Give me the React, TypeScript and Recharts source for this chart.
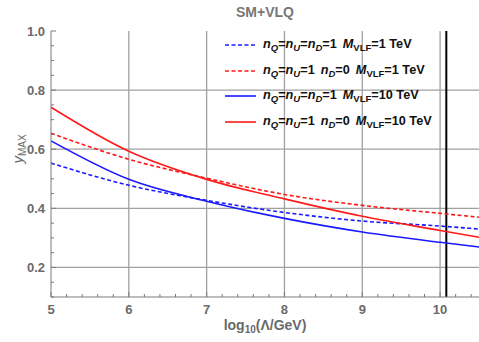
import React from "react";
import { LineChart, Line, XAxis, YAxis, ReferenceLine, Legend } from "recharts";

// log10(Lambda/GeV) sample points
const xs = [5, 6, 7, 8, 9, 10, 10.5];

// y_MAX
const blueDash = [0.553, 0.478, 0.427, 0.386, 0.357, 0.34, 0.33]; // nQ=nU=nD=1, 1 TeV
const redDash = [0.654, 0.566, 0.502, 0.447, 0.41, 0.383, 0.37]; // nQ=nU=1 nD=0, 1 TeV
const blueSolid = [0.628, 0.498, 0.424, 0.366, 0.32, 0.285, 0.269]; // nQ=nU=nD=1, 10 TeV
const redSolid = [0.742, 0.593, 0.498, 0.432, 0.373, 0.325, 0.302]; // nQ=nU=1 nD=0, 10 TeV

const majorX = [5, 6, 7, 8, 9, 10];
const allX = [
  5, 5.2, 5.4, 5.6, 5.8, 6, 6.2, 6.4, 6.6, 6.8, 7, 7.2, 7.4, 7.6, 7.8, 8, 8.2,
  8.4, 8.6, 8.8, 9, 9.2, 9.4, 9.6, 9.8, 10, 10.2, 10.4,
];
const majorY = [0.2, 0.4, 0.6, 0.8, 1.0];
const allY = [
  0.1, 0.15, 0.2, 0.25, 0.3, 0.35, 0.4, 0.45, 0.5, 0.55, 0.6, 0.65, 0.7, 0.75,
  0.8, 0.85, 0.9, 0.95, 1.0,
];
const gridX = [6, 7, 8, 9, 10];
const gridY = [0.2, 0.4, 0.6, 0.8];
const cutoff = 10.08;

const data = xs.map((x, i) => ({
  x,
  blueDash: blueDash[i],
  redDash: redDash[i],
  blueSolid: blueSolid[i],
  redSolid: redSolid[i],
}));

const FRAME = "#7a7a7a";
const LABEL = "#6a6a6a";
const FONT = "'Liberation Sans', Arial, sans-serif";
const BLUE = "#1a1aff";
const RED = "#ff1a1a";

const isMajor = (list: number[], v: number) => list.some((m) => Math.abs(m - v) < 1e-6);

function BottomTick(props: any) {
  const { x, y, payload } = props;
  const major = isMajor(majorX, payload.value);
  return (
    <g>
      <line x1={x} x2={x} y1={y} y2={y - (major ? 5 : 3)} stroke={FRAME} />
      {major && (
        <text x={x} y={y + 17} textAnchor="middle" fill={LABEL} fontFamily={FONT} fontWeight="bold" fontSize={13}>
          {payload.value}
        </text>
      )}
    </g>
  );
}

function TopTick(props: any) {
  const { x, y, payload } = props;
  const major = isMajor(majorX, payload.value);
  return <line x1={x} x2={x} y1={y} y2={y + (major ? 5 : 3)} stroke={FRAME} />;
}

function LeftTick(props: any) {
  const { x, y, payload } = props;
  const major = isMajor(majorY, payload.value);
  return (
    <g>
      <line x1={x} x2={x + (major ? 5 : 3)} y1={y} y2={y} stroke={FRAME} />
      {major && (
        <text x={x - 6} y={y + 4.5} textAnchor="end" fill={LABEL} fontFamily={FONT} fontWeight="bold" fontSize={13}>
          {payload.value.toFixed(1)}
        </text>
      )}
    </g>
  );
}

function RightTick(props: any) {
  const { x, y, payload } = props;
  const major = isMajor(majorY, payload.value);
  return <line x1={x} x2={x - (major ? 5 : 3)} y1={y} y2={y} stroke={FRAME} />;
}

const legendRows = [
  { color: BLUE, dash: "4 2.5", allOne: true, tail: "=1 TeV" },
  { color: RED, dash: "4 2.5", allOne: false, tail: "=1 TeV" },
  { color: BLUE, dash: undefined, allOne: true, tail: "=10 TeV" },
  { color: RED, dash: undefined, allOne: false, tail: "=10 TeV" },
];

function LegendBox() {
  const sub = { fontSize: 9.5, verticalAlign: "-3px" } as React.CSSProperties;
  const gap = { display: "inline-block", width: 6 } as React.CSSProperties;
  return (
    <div style={{ fontFamily: FONT, fontWeight: "bold", fontSize: 12.7, color: "#111" }}>
      {legendRows.map((r, i) => (
        <div key={i} style={{ height: 25.7, display: "flex", alignItems: "center", whiteSpace: "nowrap" }}>
          <svg width={38} height={6} style={{ marginRight: 3 }}>
            <line x1={3} x2={34} y1={3} y2={3} stroke={r.color} strokeWidth={1.6} strokeDasharray={r.dash} />
          </svg>
          <span>
            <i>n</i>
            <i style={sub}>Q</i>=<i>n</i>
            <i style={sub}>U</i>
            {r.allOne ? (
              <>
                =<i>n</i>
                <i style={sub}>D</i>=1
              </>
            ) : (
              <>
                =1<span style={gap} />
                <i>n</i>
                <i style={sub}>D</i>=0
              </>
            )}
            <span style={gap} />
            <i>M</i>
            <span style={sub}>VLF</span>
            {r.tail}
          </span>
        </div>
      ))}
    </div>
  );
}

export default function App() {
  return (
    <div style={{ position: "absolute", left: 0, top: 0, width: 479, height: 342, background: "#fff" }}>
      <LineChart
        width={479}
        height={342}
        data={data}
        margin={{ top: 31, right: 0, bottom: 0, left: 0 }}
      >
        <XAxis
          dataKey="x"
          type="number"
          domain={[5, 10.5]}
          allowDataOverflow
          ticks={allX}
          interval={0}
          height={45}
          tickSize={0}
          tickMargin={0}
          tick={BottomTick}
          tickLine={false}
          axisLine={{ stroke: FRAME }}
        />
        <XAxis
          xAxisId="top"
          dataKey="x"
          type="number"
          orientation="top"
          domain={[5, 10.5]}
          allowDataOverflow
          ticks={allX}
          interval={0}
          height={0}
          tickSize={0}
          tickMargin={0}
          tick={TopTick}
          tickLine={false}
          axisLine={{ stroke: FRAME }}
        />
        <YAxis
          type="number"
          domain={[0.1, 1.0]}
          allowDataOverflow
          ticks={allY}
          interval={0}
          width={51}
          tickSize={0}
          tickMargin={0}
          tick={LeftTick}
          tickLine={false}
          axisLine={{ stroke: FRAME }}
        />
        <YAxis
          yAxisId="right"
          orientation="right"
          type="number"
          domain={[0.1, 1.0]}
          allowDataOverflow
          ticks={allY}
          interval={0}
          width={0}
          tickSize={0}
          tickMargin={0}
          tick={RightTick}
          tickLine={false}
          axisLine={false}
        />
        {gridX.map((v) => (
          <ReferenceLine key={"gx" + v} x={v} stroke="#a0a0a0" strokeWidth={1.3} />
        ))}
        {gridY.map((v) => (
          <ReferenceLine key={"gy" + v} y={v} stroke="#a0a0a0" strokeWidth={1.3} />
        ))}
        <ReferenceLine x={cutoff} stroke="#000" strokeWidth={2} />
        <Line dataKey="blueDash" type="monotone" stroke={BLUE} strokeWidth={1.6} strokeDasharray="4 2.5" dot={false} isAnimationActive={false} />
        <Line dataKey="redDash" type="monotone" stroke={RED} strokeWidth={1.6} strokeDasharray="4 2.5" dot={false} isAnimationActive={false} />
        <Line dataKey="blueSolid" type="monotone" stroke={BLUE} strokeWidth={1.6} dot={false} isAnimationActive={false} />
        <Line dataKey="redSolid" type="monotone" stroke={RED} strokeWidth={1.6} dot={false} isAnimationActive={false} />
        <Legend
          layout="horizontal"
          verticalAlign="middle"
          align="center"
          content={() => <LegendBox />}
          wrapperStyle={{ left: 222, top: 32, width: 257, height: "auto" }}
        />
      </LineChart>
      <div
        style={{
          position: "absolute", left: 0, width: 530, top: 4, textAlign: "center",
          fontFamily: FONT, fontWeight: "bold", fontSize: 14, color: "#777",
        }}
      >
        SM+VLQ
      </div>
      <div
        style={{
          position: "absolute", left: 0, width: 530, top: 317, textAlign: "center",
          fontFamily: FONT, fontWeight: "bold", fontSize: 14, color: LABEL,
        }}
      >
        log<sub style={{ fontSize: 10, verticalAlign: "-3px" }}>10</sub>(Λ/GeV)
      </div>
      <div
        style={{
          position: "absolute", left: 18, top: 149, transform: "translate(-50%, -50%) rotate(-90deg)",
          fontFamily: FONT, fontSize: 15, color: LABEL, whiteSpace: "nowrap",
        }}
      >
        <i>y</i>
        <sub style={{ fontSize: 10, verticalAlign: "-3px" }}>MAX</sub>
      </div>
    </div>
  );
}
